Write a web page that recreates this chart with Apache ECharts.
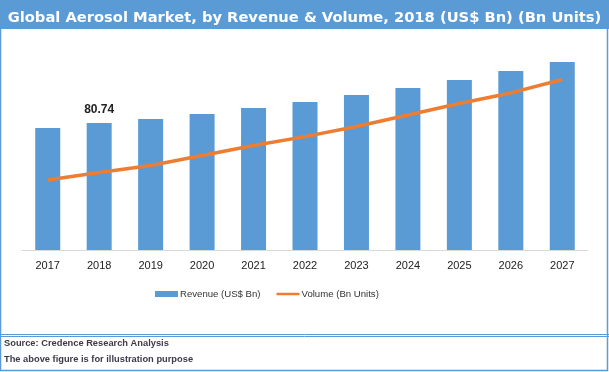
<!DOCTYPE html>
<html>
<head>
<meta charset="utf-8">
<script src="https://cdn.jsdelivr.net/npm/echarts@6/dist/echarts.min.js"></script>
<style>html,body{margin:0;padding:0;background:#fff;}#c{width:609px;height:372px;}</style>
</head>
<body>
<div id="c"></div>
<script>
const years = ['2017','2018','2019','2020','2021','2022','2023','2024','2025','2026','2027'];
const revenue = [77.6, 80.74, 83.3, 86.5, 90.3, 94.1, 98.5, 103.0, 108.1, 113.8, 119.5];
const volume = [33.3, 36.9, 40.2, 45.0, 49.8, 54.0, 58.8, 64.3, 69.8, 74.8, 81.2];
const labelYear = '2018';

const chart = echarts.init(document.getElementById('c'));
const blue = '#5B9BD5';
chart.setOption({
  animation: false,
  backgroundColor: '#fff',
  title: {
    text: 'Global Aerosol Market, by Revenue & Volume, 2018 (US$ Bn) (Bn Units)',
    left: 'center', top: 6,
    textStyle: {color: '#fff', fontFamily: 'DejaVu Sans', fontWeight: 'bold', fontSize: 14.7}
  },
  grid: {left: 22, right: 21, top: 40, bottom: 122},
  legend: {
    top: 284, left: 150, itemGap: 16, itemWidth: 23, itemHeight: 6,
    textStyle: {fontFamily: 'Liberation Sans', fontSize: 9.6, color: '#333', padding: [0,0,0,-3]},
    data: [
      {name: 'Revenue (US$ Bn)', icon: 'rect'},
      {name: 'Volume (Bn Units)', icon: 'path://M0,0L0.01,0L0.01,0.01Z M0,1.6L24,1.6L24,4.4L0,4.4Z M23.99,5.99L24,5.99L24,6Z'}
    ]
  },
  xAxis: {
    type: 'category', data: years,
    axisLine: {lineStyle: {color: '#d9d9d9'}},
    axisTick: {show: false},
    axisLabel: {color: '#222', fontFamily: 'Liberation Sans', fontSize: 11, margin: 10}
  },
  yAxis: [
    {type: 'value', min: 0, max: 133.5, show: false, splitLine: {show: false}},
    {type: 'value', min: 0, max: 100, show: false, splitLine: {show: false}}
  ],
  series: [
    {
      name: 'Revenue (US$ Bn)', type: 'bar', barWidth: 25,
      itemStyle: {color: blue},
      data: revenue.map((v, i) => ({
        value: v,
        label: years[i] === labelYear ? {show: true, position: 'top', distance: 7, formatter: '{c}',
          fontFamily: 'Liberation Sans', fontWeight: 'bold', fontSize: 12, color: '#222'} : {show: false}
      }))
    },
    {
      name: 'Volume (Bn Units)', type: 'line', yAxisIndex: 1, symbol: 'none',
      lineStyle: {color: '#ED7D31', width: 3.5}, itemStyle: {color: '#ED7D31'},
      data: volume
    }
  ],
  graphic: [
    {type: 'rect', shape: {x: 0, y: 0, width: 609, height: 29}, style: {fill: blue}, z: -1},
    {type: 'rect', shape: {x: 0.5, y: 0.5, width: 607, height: 370}, style: {fill: null, stroke: blue, lineWidth: 1.5}, z: 10},
    {type: 'line', shape: {x1: 0, y1: 334.5, x2: 609, y2: 334.5}, style: {stroke: blue, lineWidth: 1}},
    {type: 'line', shape: {x1: 0, y1: 336.5, x2: 609, y2: 336.5}, style: {stroke: blue, lineWidth: 1}},
    {type: 'text', left: 4, top: 339, style: {text: 'Source: Credence Research Analysis', fill: '#3a3a4a', font: 'bold 9.3px "Liberation Sans"'}},
    {type: 'text', left: 4, top: 355, style: {text: 'The above figure is for illustration purpose', fill: '#3a3a4a', font: 'bold 9.3px "Liberation Sans"'}}
  ]
});
</script>
</body>
</html>
